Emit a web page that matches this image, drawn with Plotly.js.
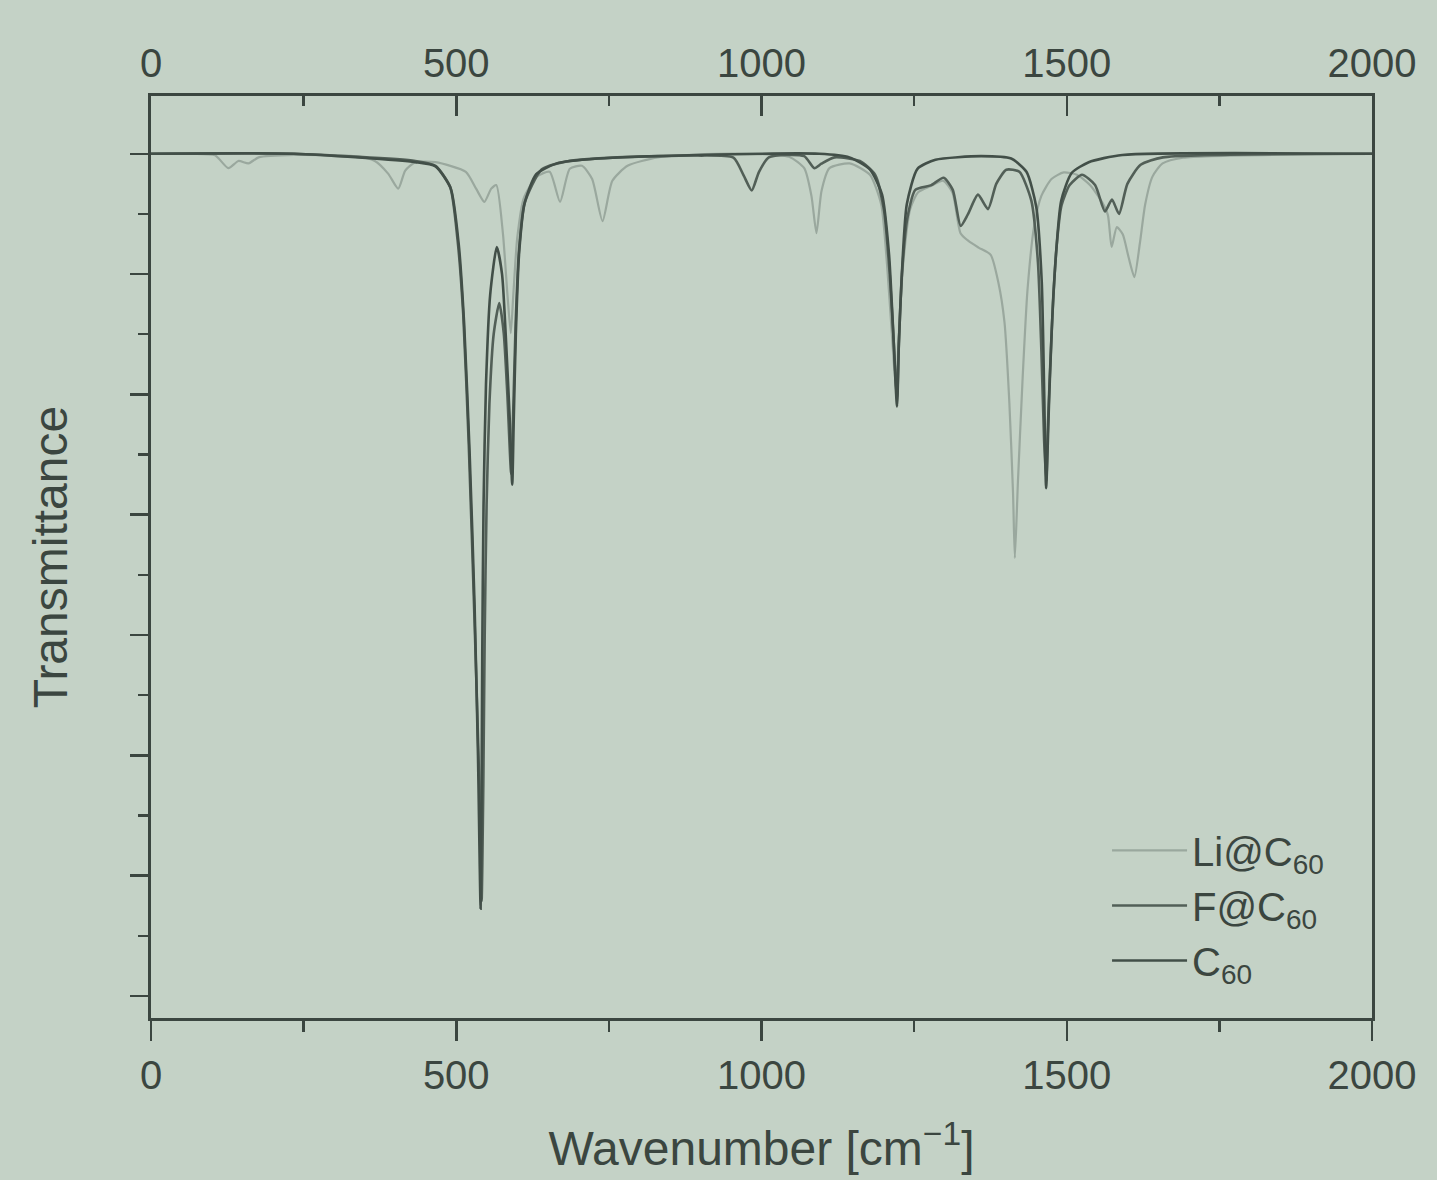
<!DOCTYPE html>
<html>
<head>
<meta charset="utf-8">
<script src="https://cdn.plot.ly/plotly-3.0.1.min.js"></script>
<style>html,body{margin:0;padding:0;background:#c4d2c6;}#chart{width:1437px;height:1180px;}</style>
</head>
<body>
<div id="chart"></div>
<script>
// Wavenumber (cm^-1) and transmittance (arbitrary units, baseline = 1.0)
const seriesNames = ["Li@C<sub>60</sub>", "F@C<sub>60</sub>", "C<sub>60</sub>"];

const liX = [0, 68, 105, 126.7, 143.3, 159.8, 176.3, 234.6, 333.6, 366.7, 388.4, 405, 416.4, 433, 466, 515.7, 532.5, 546, 557.3, 565.6, 576.4, 583.7, 589.3, 593.6, 599.9, 610.5, 631.7, 653, 670, 686, 705.9, 722.6, 739.6, 755.7, 780.6, 830, 929, 1045, 1070, 1081.8, 1090, 1098.3, 1111.3, 1144.5, 1177.6, 1196, 1205.6, 1213.6, 1220.3, 1225, 1232, 1243.5, 1256.6, 1276.6, 1298, 1313, 1326, 1339, 1355.6, 1375.4, 1388, 1398, 1406, 1412, 1415, 1420, 1427.4, 1435.6, 1446.6, 1458.4, 1475, 1495, 1516.7, 1538, 1557.7, 1567.4, 1573.5, 1582, 1591.7, 1601.3, 1610.8, 1619.6, 1628.5, 1640.4, 1657, 1690.4, 2000];
const liY = [1.0, 1.0, 0.9987, 0.988, 0.994, 0.992, 0.997, 0.999, 0.998, 0.994, 0.9835, 0.971, 0.986, 0.993, 0.993, 0.985, 0.971, 0.960, 0.971, 0.974, 0.934, 0.884, 0.851, 0.884, 0.93, 0.963, 0.981, 0.985, 0.96, 0.9875, 0.99, 0.979, 0.944, 0.9775, 0.99, 0.997, 1.0, 0.9975, 0.988, 0.965, 0.934, 0.969, 0.988, 0.992, 0.9825, 0.958, 0.908, 0.85, 0.804, 0.85, 0.908, 0.954, 0.968, 0.973, 0.9775, 0.9675, 0.934, 0.9275, 0.922, 0.916, 0.893, 0.86, 0.793, 0.718, 0.664, 0.727, 0.81, 0.886, 0.94, 0.965, 0.979, 0.9845, 0.9825, 0.974, 0.96, 0.949, 0.9225, 0.939, 0.933, 0.914, 0.8975, 0.925, 0.958, 0.981, 0.992, 0.9967, 1.0];

const fX = [0, 234, 433, 466, 490, 502, 511.4, 520.5, 530.2, 537.8, 541.5, 544.3, 546.6, 549.7, 554.3, 561.3, 570.5, 577.8, 583.7, 590, 593.7, 597.3, 602.8, 612, 639.7, 681, 763.6, 896, 954, 970.7, 984, 995.6, 1012, 1069.8, 1086.6, 1098, 1119.6, 1161, 1186, 1200.5, 1210, 1216.8, 1222, 1225, 1230, 1238.7, 1252, 1277, 1298.4, 1313.3, 1326.2, 1337.8, 1354.6, 1371, 1384.5, 1401, 1422.4, 1442, 1452.8, 1458.5, 1463, 1466.4, 1469.4, 1475.3, 1482.7, 1491.4, 1504.8, 1525, 1546.4, 1562.6, 1574, 1585.6, 1599.3, 1621, 1657.4, 2000];
const fY = [1.0, 1.0, 0.994, 0.99, 0.9725, 0.929, 0.867, 0.758, 0.608, 0.475, 0.379, 0.475, 0.60, 0.708, 0.792, 0.85, 0.876, 0.851, 0.80, 0.734, 0.7925, 0.859, 0.92, 0.959, 0.987, 0.9936, 0.997, 0.9985, 0.9967, 0.982, 0.9695, 0.9846, 0.997, 0.998, 0.988, 0.9917, 0.997, 0.994, 0.9826, 0.9537, 0.90, 0.8417, 0.796, 0.842, 0.90, 0.946, 0.97, 0.9737, 0.98, 0.97, 0.94, 0.9494, 0.966, 0.954, 0.975, 0.9867, 0.985, 0.961, 0.91, 0.836, 0.761, 0.7275, 0.7775, 0.8525, 0.919, 0.957, 0.974, 0.9825, 0.974, 0.952, 0.962, 0.95, 0.975, 0.9908, 0.997, 1.0];

const cX = [0, 234, 433, 466, 491, 504, 513, 522, 530, 535.6, 539.9, 541.4, 542.6, 544.7, 548.7, 555.6, 566.4, 575, 581, 587.3, 591.7, 594, 597.6, 603, 612, 631, 664.5, 731, 896, 1094.5, 1144, 1177.6, 1197.5, 1208.8, 1215.2, 1222, 1225, 1229.9, 1238, 1255.5, 1285, 1359.6, 1409, 1434, 1450, 1459, 1463, 1466.2, 1471.6, 1478.5, 1490.9, 1508, 1536, 1591, 2000];
const cY = [1.0, 1.0, 0.993, 0.9895, 0.971, 0.925, 0.858, 0.75, 0.625, 0.50, 0.3725, 0.458, 0.583, 0.708, 0.808, 0.883, 0.9225, 0.90, 0.85, 0.783, 0.725, 0.775, 0.85, 0.9175, 0.959, 0.983, 0.992, 0.996, 0.999, 1.0, 0.997, 0.987, 0.966, 0.917, 0.858, 0.79, 0.842, 0.90, 0.958, 0.9875, 0.995, 0.998, 0.996, 0.985, 0.956, 0.894, 0.8025, 0.722, 0.8025, 0.886, 0.961, 0.984, 0.993, 0.999, 1.0];

const xTickVals = [0, 500, 1000, 1500, 2000];
const xTickText = ["0", "500", "1000", "1500", "2000"];

const ink = "#3b4640";
const bg = "#c4d2c6";
const font = "Liberation Sans, Arial, Helvetica, sans-serif";

const traces = [
  {x: liX, y: liY, name: seriesNames[0], mode: "lines", line: {color: "#9aa89e", width: 2.2, shape: "spline", smoothing: 0.6}},
  {x: fX, y: fY, name: seriesNames[1], mode: "lines", line: {color: "#525f57", width: 2.6, shape: "spline", smoothing: 0.6}},
  {x: cX, y: cY, name: seriesNames[2], mode: "lines", line: {color: "#424f48", width: 2.6, shape: "spline", smoothing: 0.6}},
  {x: [0, 2000], y: [null, null], xaxis: "x2", mode: "lines", showlegend: false, hoverinfo: "skip"}
];

const layout = {
  width: 1437, height: 1180,
  paper_bgcolor: bg, plot_bgcolor: bg,
  margin: {l: 151, r: 65, t: 96, b: 162},
  font: {family: font, color: ink, size: 40},
  showlegend: true,
  legend: {x: 0.783, y: 0.217, xanchor: "left", yanchor: "top", bgcolor: "rgba(0,0,0,0)",
           font: {size: 40, color: ink, family: font}, itemwidth: 75, tracegroupgap: 0},
  xaxis: {range: [0, 2000], tickmode: "array", tickvals: xTickVals, ticktext: xTickText,
          ticks: "outside", ticklen: 20, tickwidth: 2.5, tickcolor: ink,
          minor: {dtick: 250, tick0: 0, ticks: "outside", ticklen: 11, tickwidth: 2.5, tickcolor: ink},
          showline: true, linecolor: ink, linewidth: 3, showgrid: false, zeroline: false,
          tickfont: {size: 40, color: ink},
          title: {text: "Wavenumber [cm<sup>−1</sup>]", font: {size: 48, color: ink}, standoff: 36}},
  xaxis2: {overlaying: "x", side: "top", matches: "x", range: [0, 2000], tickmode: "array",
           tickvals: xTickVals, ticktext: xTickText,
           ticks: "inside", ticklen: 20, tickwidth: 2.5, tickcolor: ink,
           minor: {dtick: 250, tick0: 0, ticks: "inside", ticklen: 10, tickwidth: 2.5, tickcolor: ink},
           showline: true, linecolor: ink, linewidth: 3, showgrid: false, zeroline: false,
           tickfont: {size: 40, color: ink}},
  yaxis: {range: [0.2817, 1.048], tick0: 0.3, dtick: 0.1, showticklabels: false,
          ticks: "outside", ticklen: 18, tickwidth: 2.5, tickcolor: ink,
          minor: {dtick: 0.05, tick0: 0.3, ticks: "outside", ticklen: 10, tickwidth: 2.5, tickcolor: ink},
          showline: true, mirror: true, linecolor: ink, linewidth: 3, showgrid: false, zeroline: false,
          title: {text: "Transmittance", font: {size: 48, color: ink}, standoff: 48}}
};

Plotly.newPlot("chart", traces, layout, {displayModeBar: false, staticPlot: true});
</script>
</body>
</html>
